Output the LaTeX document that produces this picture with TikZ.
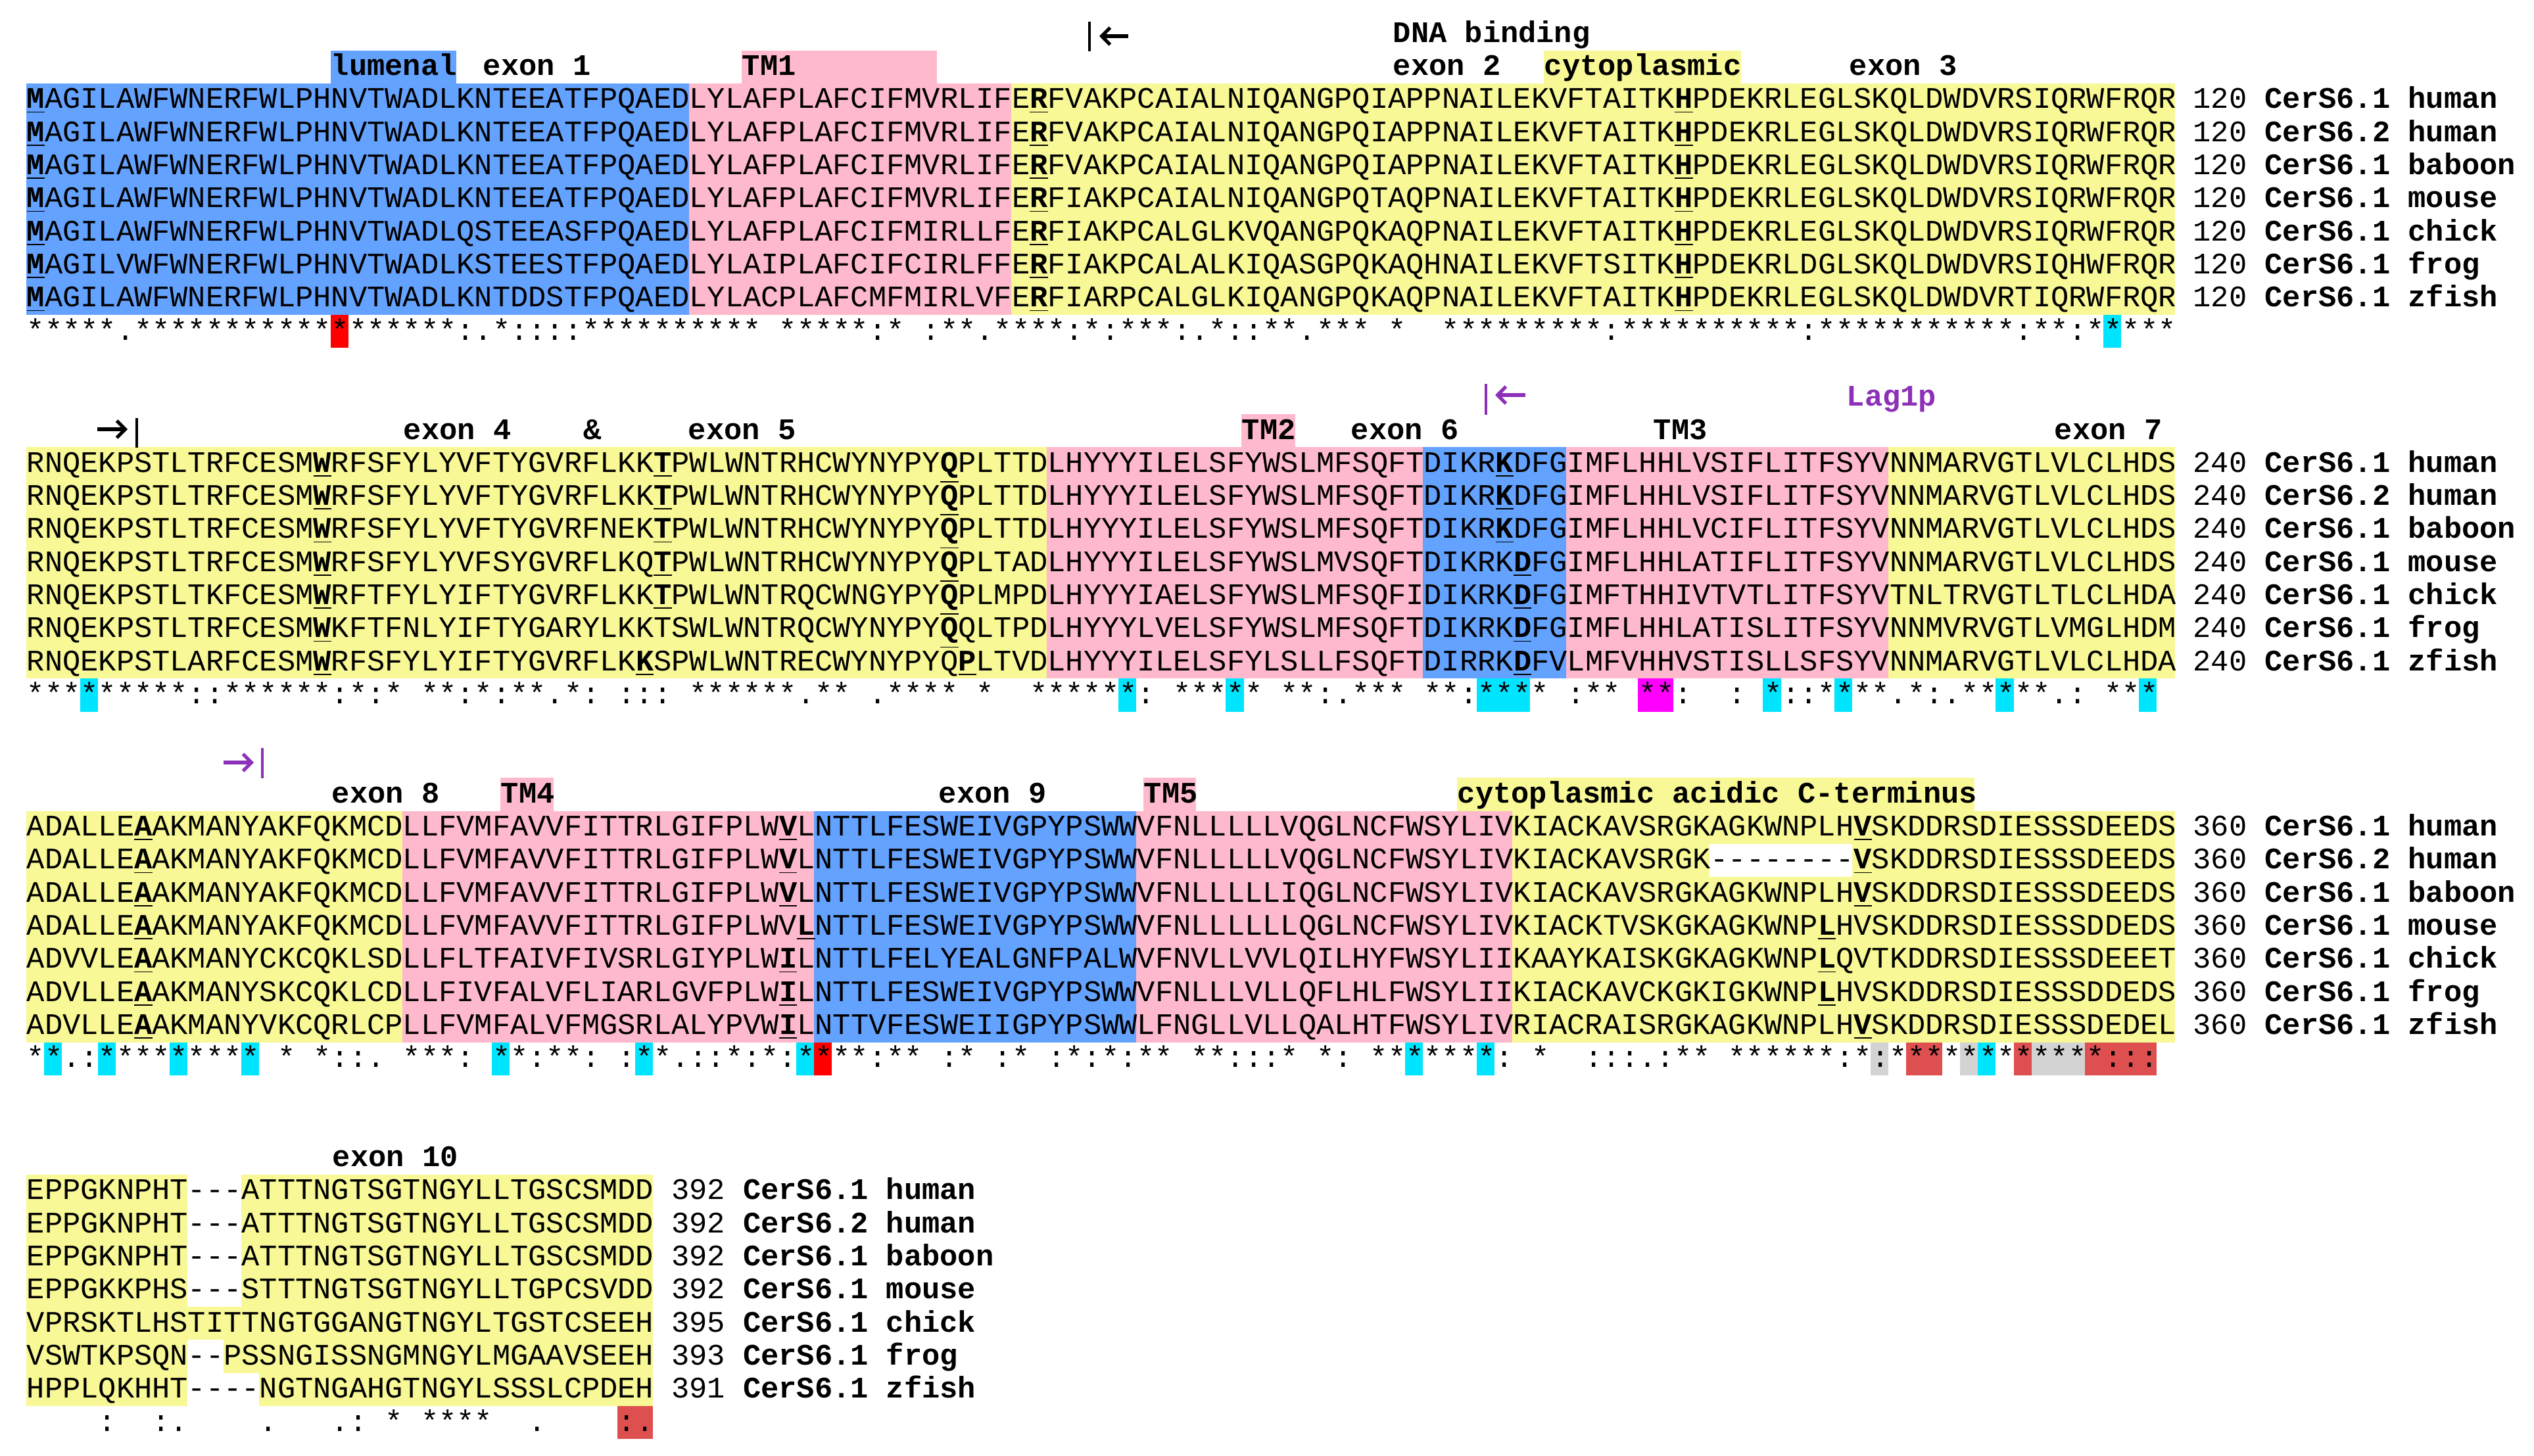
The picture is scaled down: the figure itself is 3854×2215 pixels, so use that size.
\documentclass[tikz,border=0pt]{standalone}
\usepackage{fontspec}
\setmonofont{Liberation Mono}
\usetikzlibrary{arrows.meta}
\definecolor{hblue}{RGB}{100,162,255}
\definecolor{hpink}{RGB}{255,185,204}
\definecolor{hyel}{RGB}{248,248,150}
\definecolor{hcyan}{RGB}{0,229,255}
\definecolor{hred}{RGB}{255,0,0}
\definecolor{hdred}{RGB}{222,80,80}
\definecolor{hgrey}{RGB}{211,211,211}
\definecolor{hmag}{RGB}{255,0,255}
\definecolor{hpurp}{RGB}{140,48,184}
\newcommand\bu[1]{\underline{\textbf{#1}}}
\newcommand\band[5]{\fill[#1] ({40+27.23*#2},{#4}) rectangle ({40+27.23*(#3+1)},{#5});}
\newcommand\cons[4]{\band{#1}{#3}{#4}{#2+352.1}{#2+402.4}}
\newcommand\sband[4]{\band{#1}{#3}{#4}{#2}{#2+352.1}}
\newcommand\cell[5]{\band{#1}{#3}{#4}{#2+50.3*#5}{#2+50.3*(#5+1)}}
\tikzset{
  seq/.style={font=\ttfamily\fontsize{11.35}{13}\selectfont, anchor=base west, inner sep=0pt},
  lab/.style={font=\ttfamily\bfseries\fontsize{11.35}{13}\selectfont, anchor=base west, inner sep=0pt},
  bar/.style={line width=0.8pt},
  arr/.style={line width=1.3pt,-{Straight Barb[length=3.2pt,width=6.5pt,line width=1.3pt]}},
}
\newcommand\srow[4]{\node[seq] (#1) at (40,{#2+50.3*#3+38}) {#4};}
\newcommand\nrow[5]{\node[seq] (#1) at ({40+27.23*#5},{#2+50.3*#3+38}) {#4};}
\newcommand\labx[4]{\node[lab] (#1) at (#2,{#3+38}) {#4};}
\begin{document}
\begin{tikzpicture}[x=0.25pt,y=-0.25pt]
\useasboundingbox (0,0) rectangle (3854,2215);
% ---------- backgrounds block 1 (top 127)
\sband{hblue}{127}{0}{36}
\sband{hpink}{127}{37}{54}
\sband{hyel}{127}{55}{119}
\cons{hred}{127}{17}{17}
\cons{hcyan}{127}{116}{116}
% block 2 (680.3)
\sband{hyel}{680.3}{0}{56}
\sband{hpink}{680.3}{57}{77}
\sband{hblue}{680.3}{78}{85}
\sband{hpink}{680.3}{86}{103}
\sband{hyel}{680.3}{104}{119}
\cons{hcyan}{680.3}{3}{3}\cons{hcyan}{680.3}{61}{61}\cons{hcyan}{680.3}{67}{67}
\cons{hcyan}{680.3}{81}{83}\cons{hmag}{680.3}{90}{91}\cons{hcyan}{680.3}{97}{97}
\cons{hcyan}{680.3}{101}{101}\cons{hcyan}{680.3}{110}{110}\cons{hcyan}{680.3}{118}{118}
% block 3 (1233.6)
\sband{hyel}{1233.6}{0}{20}
\sband{hpink}{1233.6}{21}{43}
\sband{hblue}{1233.6}{44}{61}
\sband{hpink}{1233.6}{62}{82}
\sband{hyel}{1233.6}{83}{119}
\cell{white}{1233.6}{94}{101}{1}
\cons{hcyan}{1233.6}{1}{1}\cons{hcyan}{1233.6}{4}{4}\cons{hcyan}{1233.6}{8}{8}
\cons{hcyan}{1233.6}{12}{12}\cons{hcyan}{1233.6}{26}{26}\cons{hcyan}{1233.6}{34}{34}
\cons{hcyan}{1233.6}{43}{43}\cons{hred}{1233.6}{44}{44}\cons{hcyan}{1233.6}{77}{77}
\cons{hcyan}{1233.6}{81}{81}\cons{hgrey}{1233.6}{103}{103}\cons{hdred}{1233.6}{105}{106}
\cons{hgrey}{1233.6}{108}{108}\cons{hcyan}{1233.6}{109}{109}\cons{hdred}{1233.6}{111}{111}
\cons{hgrey}{1233.6}{112}{114}\cons{hdred}{1233.6}{115}{118}
% block 4 (1786.9)
\sband{hyel}{1786.9}{0}{34}
\cell{white}{1786.9}{9}{11}{0}\cell{white}{1786.9}{9}{11}{1}\cell{white}{1786.9}{9}{11}{2}
\cell{white}{1786.9}{9}{11}{3}\cell{white}{1786.9}{9}{10}{5}\cell{white}{1786.9}{9}{12}{6}
\cons{hdred}{1786.9}{33}{34}
% ---------- label boxes
\fill[hblue] (503,76.7) rectangle (694,127);
\fill[hpink] (1128,76.7) rectangle (1425,127);
\fill[hyel] (2348,76.7) rectangle (2648,127);
\fill[hpink] (1888,630) rectangle (1970,680.3);
\fill[hpink] (761,1183.3) rectangle (842,1233.6);
\fill[hpink] (1739,1183.3) rectangle (1819,1233.6);
\fill[hyel] (2216,1183.3) rectangle (3003,1233.6);
% ---------- labels
\labx{l1}{503}{76.7}{lumenal}
\labx{l2}{734}{76.7}{exon 1}
\labx{l3}{1128}{76.7}{TM1}
\labx{l4}{2118}{26.4}{DNA binding}
\labx{l5}{2118}{76.7}{exon 2}
\labx{l6}{2348}{76.7}{cytoplasmic}
\labx{l7}{2812}{76.7}{exon 3}
\labx{l8}{613}{630}{exon 4}
\labx{l9}{887}{630}{\&}
\labx{l10}{1046}{630}{exon 5}
\labx{l11}{1888}{630}{TM2}
\labx{l12}{2054}{630}{exon 6}
\labx{l13}{2514}{630}{TM3}
\node[lab,text=hpurp] (l14) at (2808,{579.7+38}) {Lag1p};
\labx{l15}{3124}{630}{exon 7}
\labx{l16}{504}{1183.3}{exon 8}
\labx{l17}{761}{1183.3}{TM4}
\labx{l18}{1427}{1183.3}{exon 9}
\labx{l19}{1739}{1183.3}{TM5}
\labx{l20}{2216}{1183.3}{cytoplasmic acidic C-terminus}
\labx{l21}{505}{1736.6}{exon 10}
% ---------- exon boundary marks
\coordinate (m1a) at (1716,55); \coordinate (m1b) at (1672,55);
\draw[bar] (1657,33) -- (1657,78);
\draw[arr] (m1a) -- (m1b);
\coordinate (m2a) at (148,653); \coordinate (m2b) at (194,653);
\draw[arr] (m2a) -- (m2b);
\draw[bar] (208,636) -- (208,681);
\coordinate (m3a) at (2320,601); \coordinate (m3b) at (2274,601);
\draw[bar,hpurp] (2260,584) -- (2260,631);
\draw[arr,hpurp] (m3a) -- (m3b);
\coordinate (m4a) at (340,1160); \coordinate (m4b) at (386,1160);
\draw[arr,hpurp] (m4a) -- (m4b);
\draw[bar,hpurp] (399,1138) -- (399,1184);
% ---------- block 1 sequences
\srow{a0}{127}{0}{\bu{M}AGILAWFWNERFWLPHNVTWADLKNTEEATFPQAEDLYLAFPLAFCIFMVRLIFE\bu{R}FVAKPCAIALNIQANGPQIAPPNAILEKVFTAITK\bu{H}PDEKRLEGLSKQLDWDVRSIQRWFRQR}
\srow{a1}{127}{1}{\bu{M}AGILAWFWNERFWLPHNVTWADLKNTEEATFPQAEDLYLAFPLAFCIFMVRLIFE\bu{R}FVAKPCAIALNIQANGPQIAPPNAILEKVFTAITK\bu{H}PDEKRLEGLSKQLDWDVRSIQRWFRQR}
\srow{a2}{127}{2}{\bu{M}AGILAWFWNERFWLPHNVTWADLKNTEEATFPQAEDLYLAFPLAFCIFMVRLIFE\bu{R}FVAKPCAIALNIQANGPQIAPPNAILEKVFTAITK\bu{H}PDEKRLEGLSKQLDWDVRSIQRWFRQR}
\srow{a3}{127}{3}{\bu{M}AGILAWFWNERFWLPHNVTWADLKNTEEATFPQAEDLYLAFPLAFCIFMVRLIFE\bu{R}FIAKPCAIALNIQANGPQTAQPNAILEKVFTAITK\bu{H}PDEKRLEGLSKQLDWDVRSIQRWFRQR}
\srow{a4}{127}{4}{\bu{M}AGILAWFWNERFWLPHNVTWADLQSTEEASFPQAEDLYLAFPLAFCIFMIRLLFE\bu{R}FIAKPCALGLKVQANGPQKAQPNAILEKVFTAITK\bu{H}PDEKRLEGLSKQLDWDVRSIQRWFRQR}
\srow{a5}{127}{5}{\bu{M}AGILVWFWNERFWLPHNVTWADLKSTEESTFPQAEDLYLAIPLAFCIFCIRLFFE\bu{R}FIAKPCALALKIQASGPQKAQHNAILEKVFTSITK\bu{H}PDEKRLDGLSKQLDWDVRSIQHWFRQR}
\srow{a6}{127}{6}{\bu{M}AGILAWFWNERFWLPHNVTWADLKNTDDSTFPQAEDLYLACPLAFCMFMIRLVFE\bu{R}FIARPCALGLKIQANGPQKAQPNAILEKVFTAITK\bu{H}PDEKRLEGLSKQLDWDVRTIQRWFRQR}
\srow{a7}{127}{7}{*****.******************:.*::::**********~*****:*~:**.****:*:***:.*::**.***~*~~*********:**********:***********:**:*****}
% ---------- block 2
\srow{b0}{680.3}{0}{RNQEKPSTLTRFCESM\bu{W}RFSFYLYVFTYGVRFLKK\bu{T}PWLWNTRHCWYNYPY\bu{Q}PLTTDLHYYYILELSFYWSLMFSQFTDIKR\bu{K}DFGIMFLHHLVSIFLITFSYVNNMARVGTLVLCLHDS}
\srow{b1}{680.3}{1}{RNQEKPSTLTRFCESM\bu{W}RFSFYLYVFTYGVRFLKK\bu{T}PWLWNTRHCWYNYPY\bu{Q}PLTTDLHYYYILELSFYWSLMFSQFTDIKR\bu{K}DFGIMFLHHLVSIFLITFSYVNNMARVGTLVLCLHDS}
\srow{b2}{680.3}{2}{RNQEKPSTLTRFCESM\bu{W}RFSFYLYVFTYGVRFNEK\bu{T}PWLWNTRHCWYNYPY\bu{Q}PLTTDLHYYYILELSFYWSLMFSQFTDIKR\bu{K}DFGIMFLHHLVCIFLITFSYVNNMARVGTLVLCLHDS}
\srow{b3}{680.3}{3}{RNQEKPSTLTRFCESM\bu{W}RFSFYLYVFSYGVRFLKQ\bu{T}PWLWNTRHCWYNYPY\bu{Q}PLTADLHYYYILELSFYWSLMVSQFTDIKRK\bu{D}FGIMFLHHLATIFLITFSYVNNMARVGTLVLCLHDS}
\srow{b4}{680.3}{4}{RNQEKPSTLTKFCESM\bu{W}RFTFYLYIFTYGVRFLKK\bu{T}PWLWNTRQCWNGYPY\bu{Q}PLMPDLHYYYIAELSFYWSLMFSQFIDIKRK\bu{D}FGIMFTHHIVTVTLITFSYVTNLTRVGTLTLCLHDA}
\srow{b5}{680.3}{5}{RNQEKPSTLTRFCESM\bu{W}KFTFNLYIFTYGARYLKKTSWLWNTRQCWYNYPY\bu{Q}QLTPDLHYYYLVELSFYWSLMFSQFTDIKRK\bu{D}FGIMFLHHLATISLITFSYVNNMVRVGTLVMGLHDM}
\srow{b6}{680.3}{6}{RNQEKPSTLARFCESM\bu{W}RFSFYLYIFTYGVRFLK\bu{K}SPWLWNTRECWYNYPYQ\bu{P}LTVDLHYYYILELSFYLSLLFSQFTDIRRK\bu{D}FVLMFVHHVSTISLLSFSYVNNMARVGTLVLCLHDA}
\srow{b7}{680.3}{7}{*********::******:*:*~**:*:**.*:~:::~******.**~.****~*~~******:~*****~**:.***~**:****~:**~**:~~:~*::****.*:.*****.:~***~}
% ---------- block 3
\srow{c0}{1233.6}{0}{ADALLE\bu{A}AKMANYAKFQKMCDLLFVMFAVVFITTRLGIFPLW\bu{V}LNTTLFESWEIVGPYPSWWVFNLLLLLVQGLNCFWSYLIVKIACKAVSRGKAGKWNPLH\bu{V}SKDDRSDIESSSDEEDS}
\srow{c1}{1233.6}{1}{ADALLE\bu{A}AKMANYAKFQKMCDLLFVMFAVVFITTRLGIFPLW\bu{V}LNTTLFESWEIVGPYPSWWVFNLLLLLVQGLNCFWSYLIVKIACKAVSRGK--------\bu{V}SKDDRSDIESSSDEEDS}
\srow{c2}{1233.6}{2}{ADALLE\bu{A}AKMANYAKFQKMCDLLFVMFAVVFITTRLGIFPLW\bu{V}LNTTLFESWEIVGPYPSWWVFNLLLLLIQGLNCFWSYLIVKIACKAVSRGKAGKWNPLH\bu{V}SKDDRSDIESSSDEEDS}
\srow{c3}{1233.6}{3}{ADALLE\bu{A}AKMANYAKFQKMCDLLFVMFAVVFITTRLGIFPLWV\bu{L}NTTLFESWEIVGPYPSWWVFNLLLLLLQGLNCFWSYLIVKIACKTVSKGKAGKWNP\bu{L}HVSKDDRSDIESSSDDEDS}
\srow{c4}{1233.6}{4}{ADVVLE\bu{A}AKMANYCKCQKLSDLLFLTFAIVFIVSRLGIYPLW\bu{I}LNTTLFELYEALGNFPALWVFNVLLVVLQILHYFWSYLIIKAAYKAISKGKAGKWNP\bu{L}QVTKDDRSDIESSSDEEET}
\srow{c5}{1233.6}{5}{ADVLLE\bu{A}AKMANYSKCQKLCDLLFIVFALVFLIARLGVFPLW\bu{I}LNTTLFESWEIVGPYPSWWVFNLLLVLLQFLHLFWSYLIIKIACKAVCKGKIGKWNP\bu{L}HVSKDDRSDIESSSDDEDS}
\srow{c6}{1233.6}{6}{ADVLLE\bu{A}AKMANYVKCQRLCPLLFVMFALVFMGSRLALYPVW\bu{I}LNTTVFESWEIIGPYPSWWLFNGLLVLLQALHTFWSYLIVRIACRAISRGKAGKWNPLH\bu{V}SKDDRSDIESSSDEDEL}
\srow{c7}{1233.6}{7}{**.:*********~*~*::.~***:~**:**:~:**.::*:*:****:**~:*~:*~:*:*:**~**:::*~*:~*******:~*~~:::.:**~******:*:************:::~}
% ---------- block 4
\srow{d0}{1786.9}{0}{EPPGKNPHT---ATTTNGTSGTNGYLLTGSCSMDD}
\srow{d1}{1786.9}{1}{EPPGKNPHT---ATTTNGTSGTNGYLLTGSCSMDD}
\srow{d2}{1786.9}{2}{EPPGKNPHT---ATTTNGTSGTNGYLLTGSCSMDD}
\srow{d3}{1786.9}{3}{EPPGKKPHS---STTTNGTSGTNGYLLTGPCSVDD}
\srow{d4}{1786.9}{4}{VPRSKTLHSTITTNGTGGANGTNGYLTGSTCSEEH}
\srow{d5}{1786.9}{5}{VSWTKPSQN--PSSNGISSNGMNGYLMGAAVSEEH}
\srow{d6}{1786.9}{6}{HPPLQKHHT----NGTNGAHGTNGYLSSSLCPDEH}
\srow{d7}{1786.9}{7}{~~~~:~~:.~~~~.~~~.:~*~****~~.~~~~:.}
% ---------- numbers and names
\nrow{an0}{127}{0}{120~\textbf{CerS6.1~human}}{121}
\nrow{an1}{127}{1}{120~\textbf{CerS6.2~human}}{121}
\nrow{an2}{127}{2}{120~\textbf{CerS6.1~baboon}}{121}
\nrow{an3}{127}{3}{120~\textbf{CerS6.1~mouse}}{121}
\nrow{an4}{127}{4}{120~\textbf{CerS6.1~chick}}{121}
\nrow{an5}{127}{5}{120~\textbf{CerS6.1~frog}}{121}
\nrow{an6}{127}{6}{120~\textbf{CerS6.1~zfish}}{121}
\nrow{bn0}{680.3}{0}{240~\textbf{CerS6.1~human}}{121}
\nrow{bn1}{680.3}{1}{240~\textbf{CerS6.2~human}}{121}
\nrow{bn2}{680.3}{2}{240~\textbf{CerS6.1~baboon}}{121}
\nrow{bn3}{680.3}{3}{240~\textbf{CerS6.1~mouse}}{121}
\nrow{bn4}{680.3}{4}{240~\textbf{CerS6.1~chick}}{121}
\nrow{bn5}{680.3}{5}{240~\textbf{CerS6.1~frog}}{121}
\nrow{bn6}{680.3}{6}{240~\textbf{CerS6.1~zfish}}{121}
\nrow{cn0}{1233.6}{0}{360~\textbf{CerS6.1~human}}{121}
\nrow{cn1}{1233.6}{1}{360~\textbf{CerS6.2~human}}{121}
\nrow{cn2}{1233.6}{2}{360~\textbf{CerS6.1~baboon}}{121}
\nrow{cn3}{1233.6}{3}{360~\textbf{CerS6.1~mouse}}{121}
\nrow{cn4}{1233.6}{4}{360~\textbf{CerS6.1~chick}}{121}
\nrow{cn5}{1233.6}{5}{360~\textbf{CerS6.1~frog}}{121}
\nrow{cn6}{1233.6}{6}{360~\textbf{CerS6.1~zfish}}{121}
\nrow{dn0}{1786.9}{0}{392~\textbf{CerS6.1~human}}{36}
\nrow{dn1}{1786.9}{1}{392~\textbf{CerS6.2~human}}{36}
\nrow{dn2}{1786.9}{2}{392~\textbf{CerS6.1~baboon}}{36}
\nrow{dn3}{1786.9}{3}{392~\textbf{CerS6.1~mouse}}{36}
\nrow{dn4}{1786.9}{4}{395~\textbf{CerS6.1~chick}}{36}
\nrow{dn5}{1786.9}{5}{393~\textbf{CerS6.1~frog}}{36}
\nrow{dn6}{1786.9}{6}{391~\textbf{CerS6.1~zfish}}{36}
\end{tikzpicture}
\end{document}
